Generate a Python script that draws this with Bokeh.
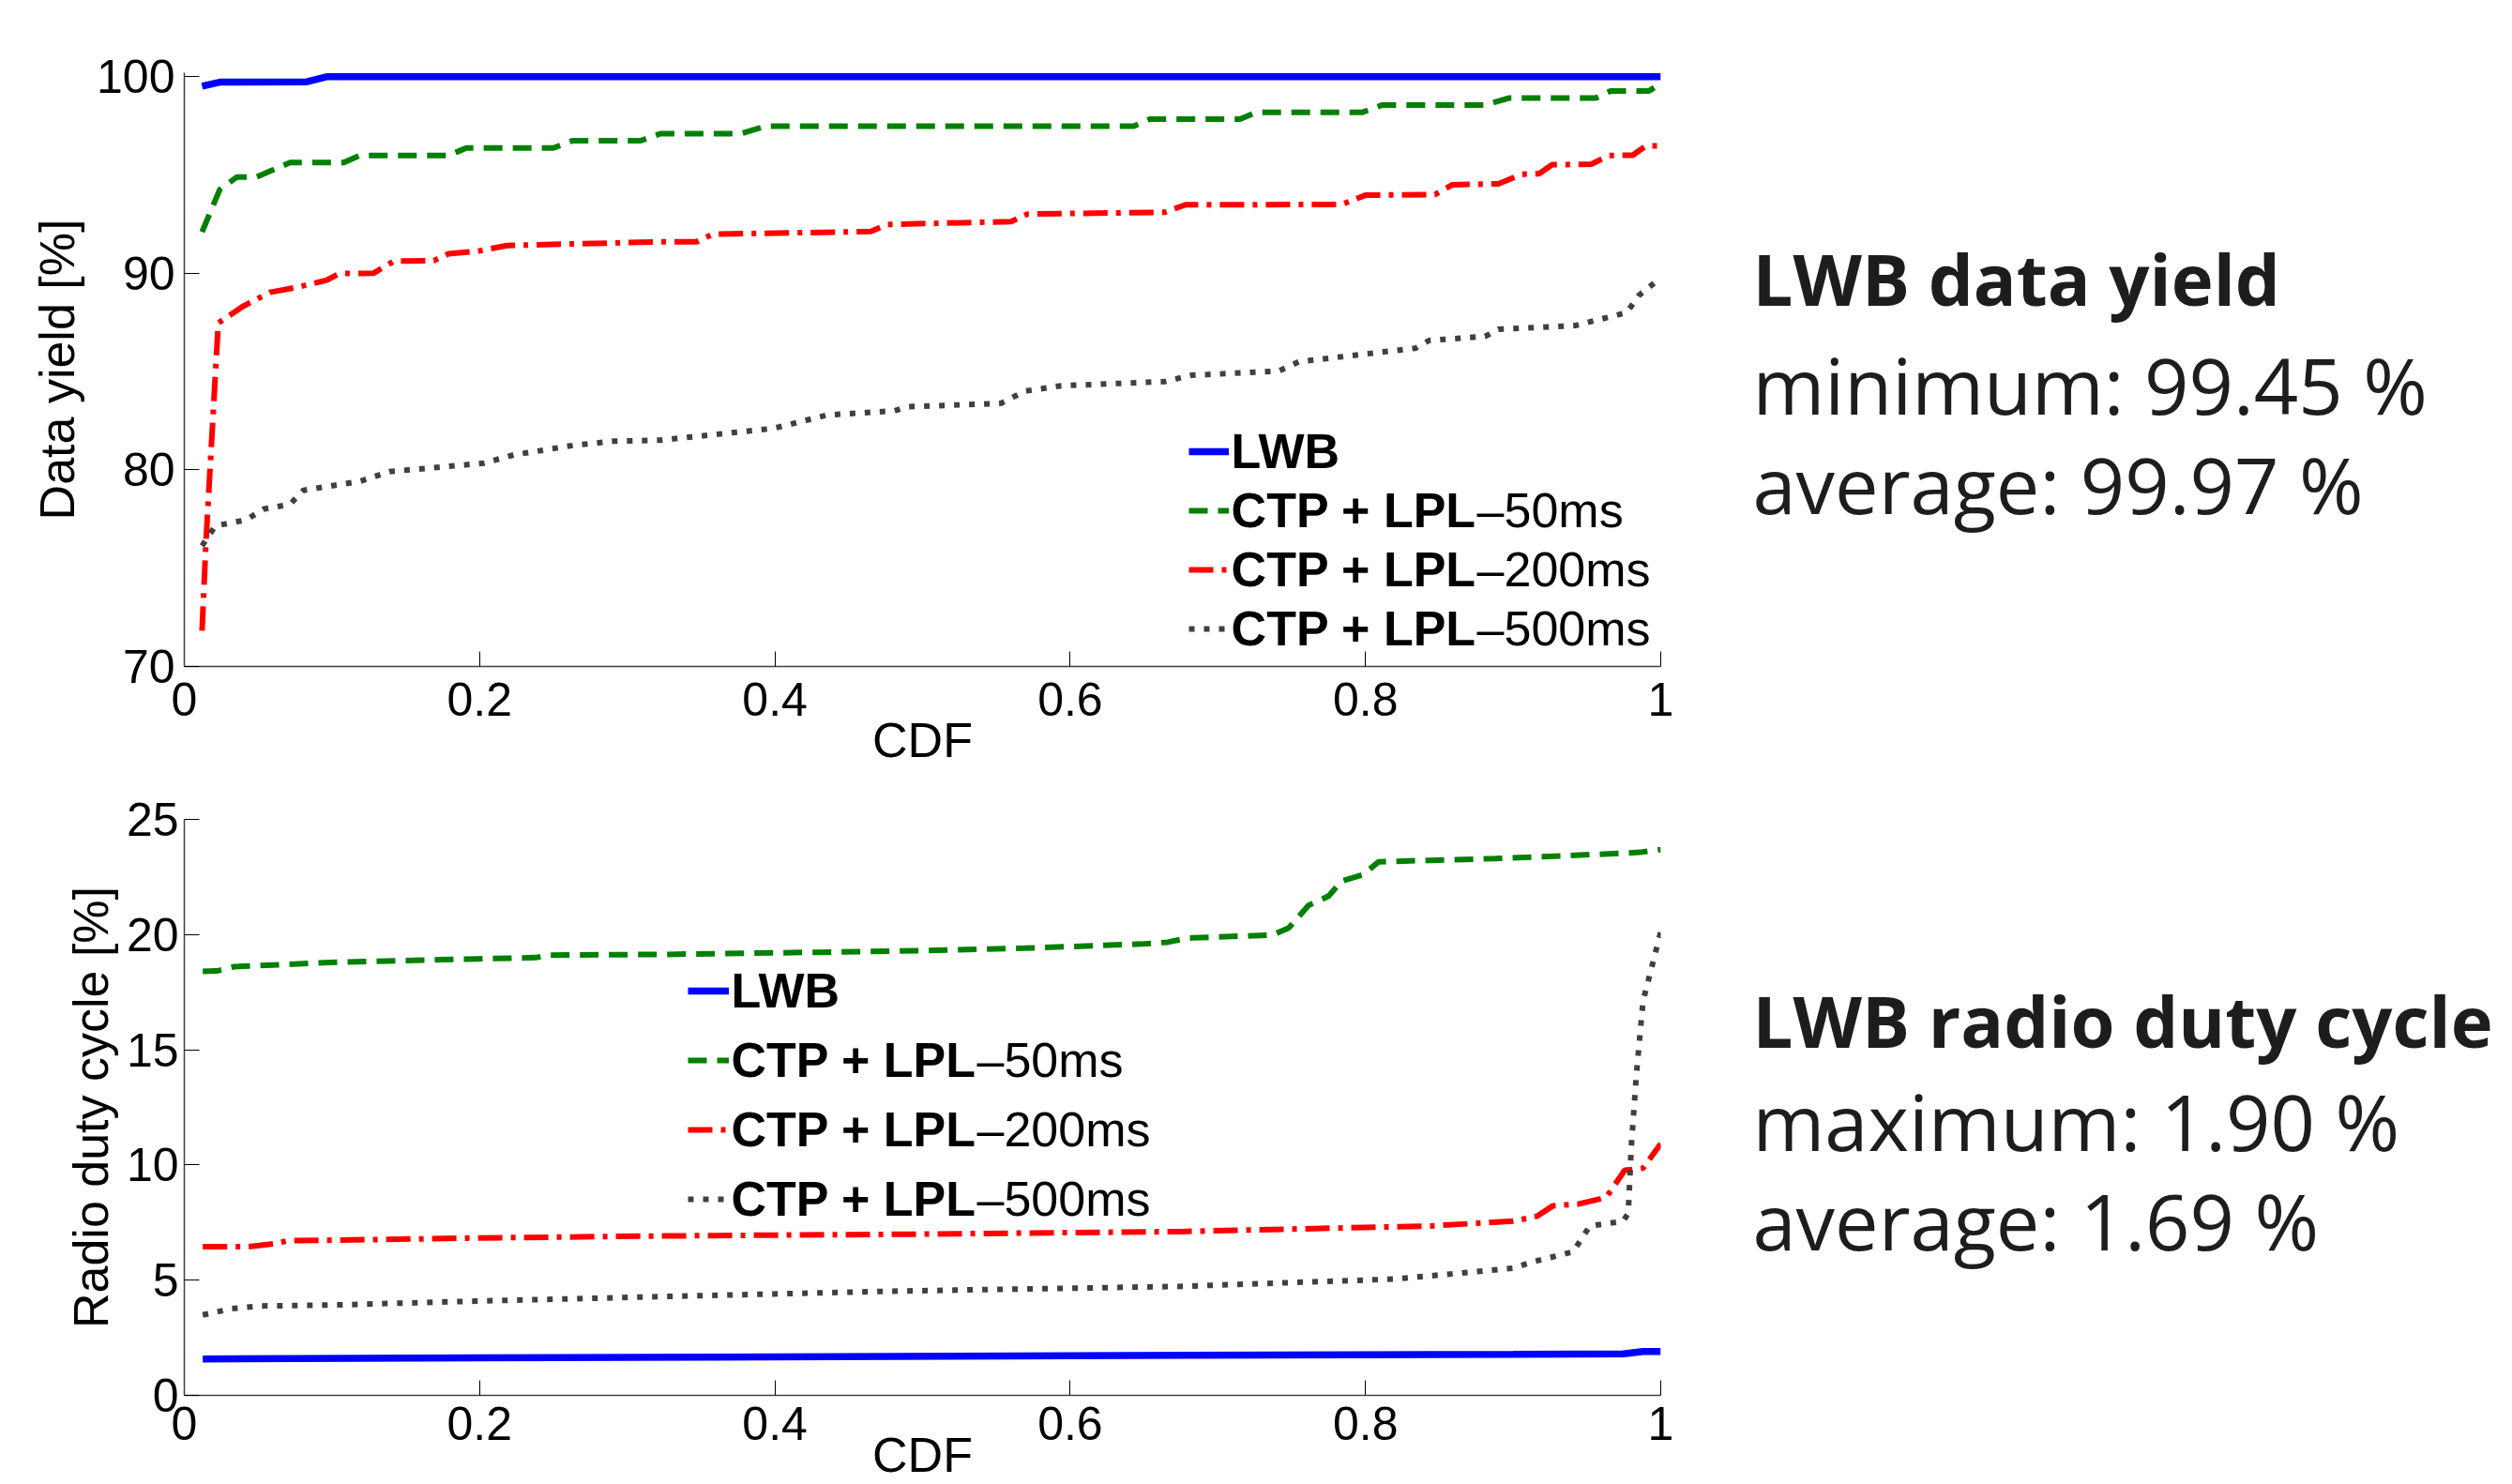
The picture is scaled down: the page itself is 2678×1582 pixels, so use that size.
from bokeh.plotting import figure
from bokeh.layouts import column, row
from bokeh.models import Range1d, FixedTicker, Legend, LegendItem, Label
from bokeh.embed import file_html
from bokeh.resources import INLINE

# ---------------- data: top panel (data yield CDF) ----------------
lwb_yield_x = [0.012, 0.024, 0.083, 0.097, 1.0]
lwb_yield_y = [99.51, 99.72, 99.74, 100.0, 100.0]

lpl50_yield_x = [0.012, 0.024, 0.0355, 0.049, 0.0716, 0.108, 0.119, 0.179, 0.191, 0.250,
                 0.263, 0.309, 0.3225, 0.377, 0.394, 0.643, 0.654, 0.715, 0.726, 0.798,
                 0.811, 0.881, 0.897, 0.956, 0.966, 0.992, 1.0]
lpl50_yield_y = [92.1, 94.25, 94.89, 94.9, 95.63, 95.63, 95.99, 95.99, 96.37, 96.37,
                 96.74, 96.74, 97.1, 97.1, 97.48, 97.48, 97.84, 97.84, 98.19, 98.19,
                 98.55, 98.55, 98.91, 98.91, 99.27, 99.27, 99.66]

lpl200_yield_x = [0.012, 0.0147, 0.023, 0.040, 0.058, 0.076, 0.0965, 0.105, 0.128, 0.142,
                  0.169, 0.179, 0.200, 0.2185, 0.3225, 0.347, 0.358, 0.465, 0.476, 0.560,
                  0.571, 0.664, 0.678, 0.784, 0.800, 0.847, 0.859, 0.890, 0.906, 0.9175,
                  0.9265, 0.953, 0.965, 0.981, 0.990, 1.0]
lpl200_yield_y = [71.82, 76.4, 87.47, 88.33, 89.03, 89.28, 89.65, 89.99, 90.0, 90.62,
                  90.64, 90.99, 91.14, 91.41, 91.6, 91.6, 91.99, 92.12, 92.48, 92.63,
                  93.01, 93.1, 93.48, 93.5, 93.97, 94.0, 94.5, 94.55, 95.04, 95.06,
                  95.52, 95.55, 95.99, 96.0, 96.48, 96.48]

lpl500_yield_x = [0.012, 0.021, 0.042, 0.0535, 0.0716, 0.0807, 0.119, 0.139, 0.2027, 0.223,
                  0.2637, 0.291, 0.3225, 0.399, 0.4356, 0.481, 0.490, 0.553, 0.569, 0.594,
                  0.664, 0.682, 0.741, 0.755, 0.834, 0.843, 0.881, 0.890, 0.942, 0.977,
                  0.985, 0.999]
lpl500_yield_y = [76.14, 77.15, 77.46, 78.0, 78.25, 78.96, 79.42, 79.91, 80.34, 80.76,
                  81.25, 81.46, 81.51, 82.11, 82.79, 83.0, 83.21, 83.38, 84.0, 84.28,
                  84.49, 84.81, 85.02, 85.5, 86.19, 86.58, 86.79, 87.15, 87.34, 88.0,
                  88.86, 89.71]

# ---------------- data: bottom panel (radio duty cycle CDF) ----------------
lwb_duty_x = [0.0125, 0.3, 0.6, 0.9, 0.9746, 0.988, 1.0]
lwb_duty_y = [1.58, 1.65, 1.72, 1.78, 1.80, 1.90, 1.90]

lpl50_duty_x = [0.0125, 0.022, 0.034, 0.1065, 0.174, 0.238, 0.247, 0.326, 0.5006, 0.5686,
                0.648, 0.666, 0.680, 0.737, 0.748, 0.7615, 0.775, 0.784, 0.798, 0.809,
                0.888, 0.956, 0.986, 1.0]
lpl50_duty_y = [18.40, 18.42, 18.61, 18.81, 18.91, 19.0, 19.11, 19.14, 19.30, 19.41,
                19.59, 19.67, 19.85, 19.98, 20.29, 21.27, 21.67, 22.33, 22.59, 23.16,
                23.30, 23.48, 23.57, 23.69]

lpl200_duty_x = [0.0125, 0.043, 0.061, 0.070, 0.129, 0.197, 0.326, 0.5, 0.675, 0.843,
                 0.900, 0.916, 0.927, 0.944, 0.963, 0.9756, 0.988, 1.0]
lpl200_duty_y = [6.45, 6.45, 6.58, 6.71, 6.76, 6.83, 6.92, 7.0, 7.11, 7.35,
                 7.56, 7.77, 8.23, 8.30, 8.59, 9.77, 9.86, 10.92]

lpl500_duty_x = [0.0125, 0.0317, 0.052, 0.1065, 0.197, 0.326, 0.478, 0.675, 0.8205, 0.900,
                 0.913, 0.9406, 0.952, 0.9746, 0.978, 0.980, 0.9835, 0.988, 1.0]
lpl500_duty_y = [3.49, 3.76, 3.88, 3.93, 4.09, 4.29, 4.52, 4.73, 5.05, 5.52,
                 5.79, 6.23, 7.35, 7.56, 7.91, 10.74, 13.93, 17.11, 20.12]

# ---------------- ticks / labels ----------------
x_ticks = [0.0, 0.2, 0.4, 0.6, 0.8, 1.0]
x_tick_labels = ["0", "0.2", "0.4", "0.6", "0.8", "1"]
yield_ticks = [70, 80, 90, 100]
yield_tick_labels = ["70", "80", "90", "100"]
duty_ticks = [0, 5, 10, 15, 20, 25]
duty_tick_labels = ["0", "5", "10", "15", "20", "25"]

series_names = ["LWB", "CTP + LPL", "CTP + LPL", "CTP + LPL"]
series_suffix = ["", "\u201350ms", "\u2013200ms", "\u2013500ms"]

yield_title = "LWB data yield"
yield_lines = ["minimum: 99.45 %", "average: 99.97 %"]
duty_title = "LWB radio duty cycle"
duty_lines = ["maximum: 1.90 %", "average: 1.69 %"]

# ---------------- styling ----------------
FONT = "Liberation Sans"
SIDE_FONT = "Open Sans"
COLORS = ["#0000FF", "#008000", "#FF0000", "#404040"]
WIDTHS = [7.5, 6, 6, 6]
DASHES = ["solid", "20 11", "26 9 5 9", "6 10"]
LEG_FS = 52
LEFT_W = 1810
SIDE_W = 2678 - LEFT_W
TOTAL_H = 1582


def style_axes(p, yticks, ylabels, ylabel, ylab_standoff, y_std):
    p.grid.visible = False
    p.outline_line_color = None
    p.background_fill_color = "white"
    p.border_fill_color = "white"
    for ax in (p.xaxis[0], p.yaxis[0]):
        ax.major_tick_in = 16
        ax.major_tick_out = 0
        ax.minor_tick_in = 0
        ax.minor_tick_out = 0
        ax.major_tick_line_color = "black"
        ax.major_tick_line_width = 1
        ax.axis_line_color = "#404040"
        ax.axis_line_width = 1.5
        ax.major_label_text_font = FONT
        ax.major_label_text_font_size = "50px"
        ax.major_label_text_color = "black"
        ax.axis_label_text_font = FONT
        ax.axis_label_text_font_size = "52px"
        ax.axis_label_text_font_style = "normal"
        ax.axis_label_text_color = "black"
    p.xaxis.ticker = FixedTicker(ticks=x_ticks)
    p.xaxis.major_label_overrides = dict(zip(x_ticks, x_tick_labels))
    p.xaxis.axis_label = "CDF"
    p.yaxis.ticker = FixedTicker(ticks=yticks)
    p.yaxis.major_label_overrides = dict(zip(yticks, ylabels))
    p.yaxis.major_label_standoff = y_std
    p.yaxis.axis_label = ylabel
    p.yaxis.axis_label_standoff = ylab_standoff


def add_series(p, xs, ys):
    rs = []
    for (x, y), c, w, d in zip(zip(xs, ys), COLORS, WIDTHS, DASHES):
        r = p.line(x, y, line_color=c, line_width=w, line_dash=d)
        rs.append(r)
    return rs


def add_legend(p, rs, lx, ly, row_h, glyph_w):
    items = [LegendItem(label=n, renderers=[r]) for n, r in zip(series_names, rs)]
    standoff = 3
    lg = Legend(items=items, location=(lx, ly), padding=0, margin=0, spacing=0,
                glyph_width=glyph_w, glyph_height=20, label_height=row_h,
                label_standoff=standoff, label_text_font=FONT,
                label_text_font_size=f"{LEG_FS}px", label_text_font_style="bold",
                label_text_color="black", background_fill_alpha=0,
                border_line_alpha=0)
    p.add_layout(lg)
    bold_w = 5.0283 * LEG_FS  # advance width of bold "CTP + LPL"
    tx = lx + glyph_w + standoff + bold_w
    n = len(rs)
    for i, s in enumerate(series_suffix):
        if not s:
            continue
        cy = ly + (n - i - 0.5) * row_h
        p.add_layout(Label(x=tx, y=cy, x_units="screen", y_units="screen", text=s,
                           text_font=FONT, text_font_size=f"{LEG_FS}px",
                           text_baseline="middle", text_align="left",
                           text_color="black"))


# ---------------- top figure ----------------
H1 = 837
p1 = figure(width=LEFT_W, height=H1, x_range=Range1d(0, 1), y_range=Range1d(70, 100.2),
            output_backend="svg", toolbar_location=None,
            min_border_left=190, min_border_right=40, min_border_top=77,
            min_border_bottom=127)
style_axes(p1, yield_ticks, yield_tick_labels, "Data yield [%]", 10, 10)
p1.xaxis.major_label_standoff = 17
p1.xaxis.axis_label_standoff = -6
r1 = add_series(p1,
                [lwb_yield_x, lpl50_yield_x, lpl200_yield_x, lpl500_yield_x],
                [lwb_yield_y, lpl50_yield_y, lpl200_yield_y, lpl500_yield_y])
add_legend(p1, r1, 1070.6, 8.7, 63, 43)

# ---------------- bottom figure ----------------
H2 = TOTAL_H - H1
p2 = figure(width=LEFT_W, height=H2, x_range=Range1d(0, 1), y_range=Range1d(0, 25),
            output_backend="svg", toolbar_location=None,
            min_border_left=196, min_border_right=38, min_border_top=36,
            min_border_bottom=93)
style_axes(p2, duty_ticks, duty_tick_labels, "Radio duty cycle [%]", 6, 6)
p2.xaxis.major_label_standoff = 12
p2.xaxis.axis_label_standoff = -16
r2 = add_series(p2,
                [lwb_duty_x, lpl50_duty_x, lpl200_duty_x, lpl500_duty_x],
                [lwb_duty_y, lpl50_duty_y, lpl200_duty_y, lpl500_duty_y])
add_legend(p2, r2, 536.5, 172.5, 74, 44)

# ---------------- side panel with the summary texts ----------------
side = figure(width=SIDE_W, height=TOTAL_H, x_range=Range1d(0, 1), y_range=Range1d(0, 1),
              output_backend="svg", toolbar_location=None,
              x_axis_location=None, y_axis_location=None,
              min_border_left=0, min_border_right=0, min_border_top=0,
              min_border_bottom=0)
side.grid.visible = False
side.outline_line_color = None
side.background_fill_color = "white"
side.border_fill_color = "white"

SIDE_SHIFT = 32  # measured offset correction of the side labels


def add_side_block(x, base_title, base_lines, title, lines):
    side.add_layout(Label(x=x, y=TOTAL_H - base_title + SIDE_SHIFT, x_units="screen",
                          y_units="screen", text=title, text_font=SIDE_FONT,
                          text_font_size="76px", text_font_style="bold",
                          text_color="#1d1d1b", text_baseline="alphabetic"))
    for b, t in zip(base_lines, lines):
        side.add_layout(Label(x=x, y=TOTAL_H - b + SIDE_SHIFT, x_units="screen",
                              y_units="screen", text=t, text_font=SIDE_FONT,
                              text_font_size="83px", text_color="#1d1d1b",
                              text_baseline="alphabetic"))


add_side_block(58, 328, [441, 547], yield_title, yield_lines)
add_side_block(58, 1119, [1226, 1332], duty_title, duty_lines)

layout = row(column(p1, p2, spacing=0), side, spacing=0)
open("out.html", "w").write(file_html(layout, INLINE))
